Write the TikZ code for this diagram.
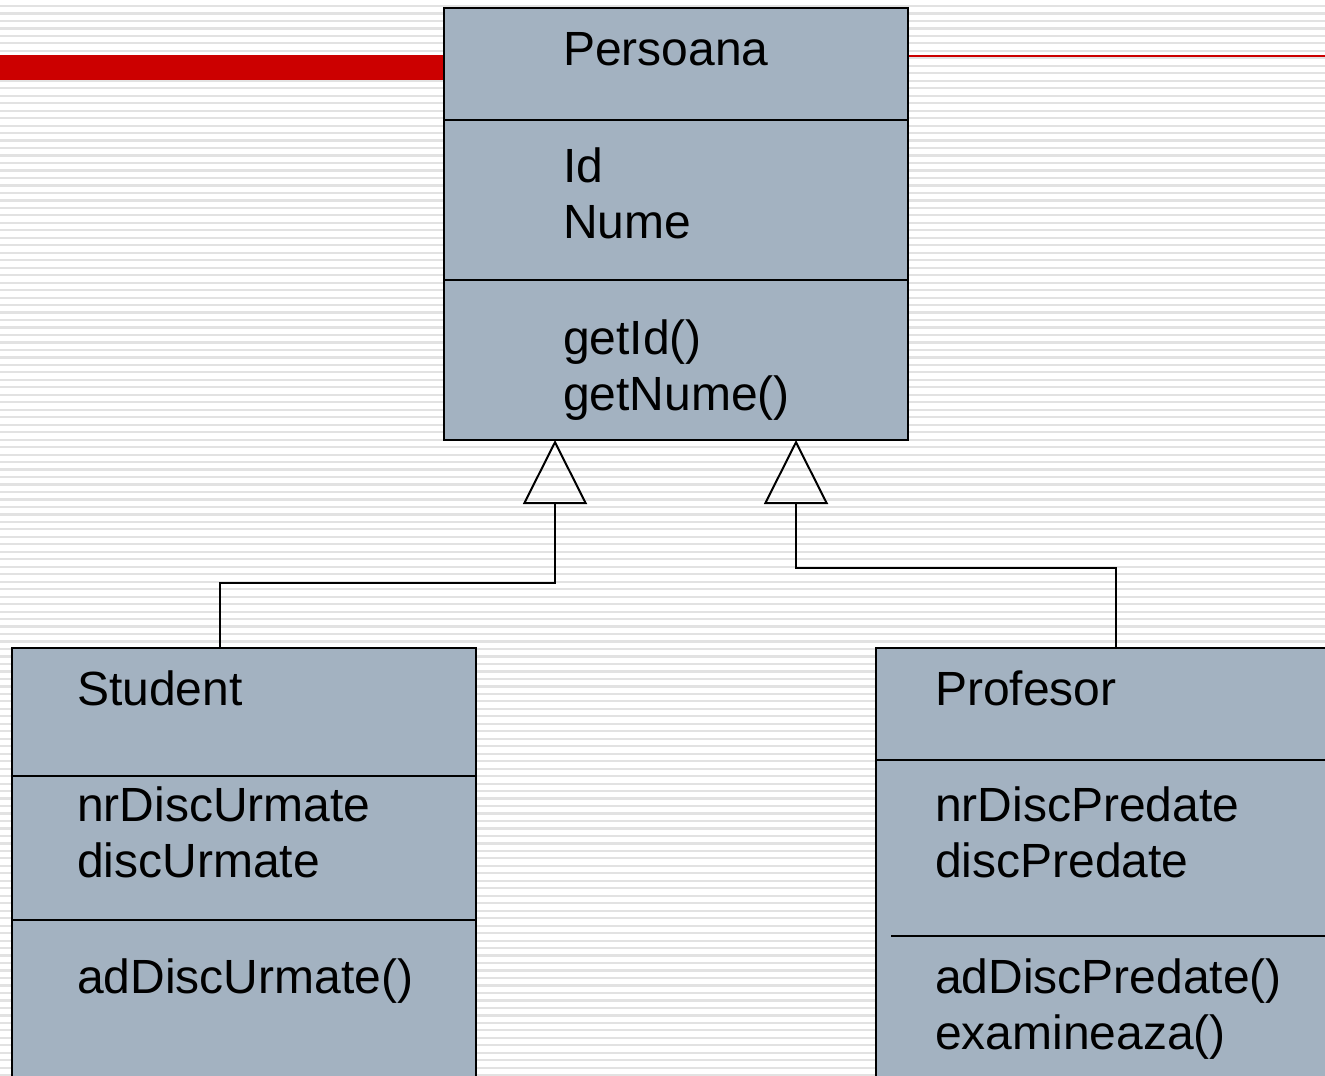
\documentclass[tikz,border=0pt]{standalone}
\usepackage{fontspec}
\setmainfont{Liberation Sans}
\usetikzlibrary{arrows.meta}

\definecolor{umlfill}{HTML}{A3B2C1}
\definecolor{barred}{HTML}{CC0000}
\definecolor{stripe}{HTML}{E2E2E2}

\tikzset{
  cls/.style={draw=black, line width=2pt, fill=umlfill, anchor=north west,
    inner sep=0pt, outer sep=0pt, minimum width=464pt},
  rule/.style={line width=2pt},
  member/.style={anchor=base west, inner sep=0pt, font=\fontsize{48}{56}\selectfont},
  inherit/.style={line width=2pt, -{Triangle[open, length=64pt, width=64pt]}}
}

\begin{document}
\begin{tikzpicture}[x=1pt, y=-1pt]
			%%%%% BACKGROUND %%%%%
			\useasboundingbox (0, 0) rectangle (1325, 1076);
			\clip (0, 0) rectangle (1325, 1076);
			\fill[white] (0, 0) rectangle (1325, 1076);
			\foreach \i in {0,...,143}
				\draw[stripe, line width=2.2pt] (0, 6+7.477*\i) -- (1325, 6+7.477*\i);
			
			\fill[barred] (0, 55) rectangle (444, 80);
			\draw[barred, line width=2pt] (908, 56) -- (1325, 56);
			
			%%%%% CLASSES %%%%%
			\node[cls, minimum height=432pt] (persoana) at (444, 8) {};
			\draw[rule] ([yshift=-112pt]persoana.north west) -- ([yshift=-112pt]persoana.north east);
			\draw[rule] ([yshift=-272pt]persoana.north west) -- ([yshift=-272pt]persoana.north east);
			
			\node[cls, minimum height=460pt] (student) at (12, 648) {};
			\draw[rule] ([yshift=-128pt]student.north west) -- ([yshift=-128pt]student.north east);
			\draw[rule] ([yshift=-272pt]student.north west) -- ([yshift=-272pt]student.north east);
			
			\node[cls, minimum height=460pt] (profesor) at (876, 648) {};
			\draw[rule] ([yshift=-112pt]profesor.north west) -- ([yshift=-112pt]profesor.north east);
			\draw[rule] ([xshift=15pt, yshift=-288pt]profesor.north west) -- ([yshift=-288pt]profesor.north east);
			
			%%%%% MEMBERS %%%%%
			\node[member] (pers-name) at (563, 65) {Persoana};
			\node[member] (pers-id) at (563, 182) {Id};
			\node[member] (pers-nume) at (563, 238) {Nume};
			\node[member] (pers-getid) at (563, 354) {getId()};
			\node[member] (pers-getnume) at (563, 410) {getNume()};
			
			\node[member] (stud-name) at (77, 705) {Student};
			\node[member] (stud-nr) at (77, 821) {nrDiscUrmate};
			\node[member] (stud-disc) at (77, 877) {discUrmate};
			\node[member] (stud-ad) at (77, 993) {adDiscUrmate()};
			
			\node[member] (prof-name) at (935, 705) {Profesor};
			\node[member] (prof-nr) at (935, 821) {nrDiscPredate};
			\node[member] (prof-disc) at (935, 877) {discPredate};
			\node[member] (prof-ad) at (935, 993) {adDiscPredate()};
			\node[member] (prof-exam) at (935, 1049) {examineaza()};
			
			%%%%% GENERALIZATION %%%%%
			\draw[inherit] ([xshift=-24pt]student.north) -- ++(0, -65) -| ([xshift=-121pt]persoana.south);
			\draw[inherit] ([xshift=8pt]profesor.north) -- ++(0, -80) -| ([xshift=120pt]persoana.south);
			
			%%%%% END %%%%%
		\end{tikzpicture}
\end{document}
